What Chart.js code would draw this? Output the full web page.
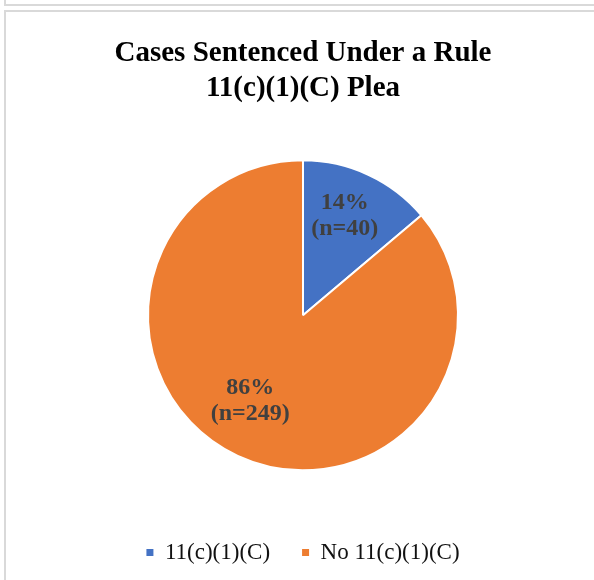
<!DOCTYPE html>
<html>
<head>
<meta charset="utf-8">
<script src="https://cdn.jsdelivr.net/npm/chart.js@4.4.1/dist/chart.umd.min.js"></script>
<style>
  html, body { margin: 0; padding: 0; background: #fff; overflow: hidden; }
  body { width: 594px; height: 580px; position: relative; }
  .caixaAnterior { position: absolute; left: 4px; top: -10px; width: 700px; height: 14px;
    border-left: 2px solid #d9d9d9; border-bottom: 2px solid #d9d9d9; }
  .caixa { position: absolute; left: 4px; top: 10px; width: 700px; height: 700px;
    border-left: 2px solid #d9d9d9; border-top: 2px solid #d9d9d9; }
  #grafico { position: absolute; left: 0; top: 0; }
</style>
</head>
<body>
<div class="caixaAnterior"></div>
<div class="caixa"></div>
<canvas id="grafico" width="594" height="574"></canvas>
<script>
const categorias = ["11(c)(1)(C)", "No 11(c)(1)(C)"];
const casos = [40, 249];
const cores = ["#4472C4", "#ED7D31"];
const titulo = ["Cases Sentenced Under a Rule", "11(c)(1)(C) Plea"];

const total = casos.reduce((acc, v) => acc + v, 0);

// pequeno ajuste de posição dos rótulos (px), como o Excel coloca
const ajusteRotulo = [[-2, -5], [-9, -9]];

// escreve "xx%" e "(n=..)" dentro de cada fatia
const rotulosFatias = {
  id: "rotulosFatias",
  afterDatasetsDraw(chart) {
    const ctx = chart.ctx;
    const meta = chart.getDatasetMeta(0);
    ctx.save();
    ctx.font = "bold 24px 'Liberation Serif', 'Times New Roman', serif";
    ctx.fillStyle = "#404040";
    ctx.textAlign = "center";
    ctx.textBaseline = "middle";
    meta.data.forEach((arco, i) => {
      const p = arco.getProps(["x", "y", "startAngle", "endAngle", "outerRadius"], true);
      const meio = (p.startAngle + p.endAngle) / 2;
      const r = p.outerRadius * 0.67;
      const x = p.x + Math.cos(meio) * r + ajusteRotulo[i][0];
      const y = p.y + Math.sin(meio) * r + ajusteRotulo[i][1];
      const pct = Math.round(casos[i] / total * 100);
      ctx.fillText(pct + "%", x, y - 13);
      ctx.fillText("(n=" + casos[i] + ")", x, y + 13);
    });
    ctx.restore();
  }
};

const padrao = Chart.overrides.pie.plugins.legend.labels.generateLabels;

new Chart(document.getElementById("grafico").getContext("2d"), {
  type: "pie",
  data: {
    labels: categorias,
    datasets: [{
      data: casos,
      backgroundColor: cores,
      borderColor: "#ffffff",
      borderWidth: 2,
      radius: 155,
    }],
  },
  options: {
    responsive: false,
    animation: false,
    layout: { padding: { left: 12, right: 0, top: 0, bottom: 0 } },
    plugins: {
      tooltip: { enabled: false },
      title: {
        display: true,
        text: titulo,
        color: "#000000",
        font: { family: "'Liberation Serif', 'Times New Roman', serif", size: 29, weight: "bold", lineHeight: 1.2 },
        padding: { top: 36, bottom: 16 },
      },
      legend: {
        position: "bottom",
        labels: {
          color: "#111111",
          font: { family: "'Liberation Serif', 'Times New Roman', serif", size: 23 },
          boxWidth: 7,
          boxHeight: 7,
          padding: 32,
          generateLabels(chart) {
            return padrao(chart).map(item => ({ ...item, lineWidth: 0, strokeStyle: "rgba(0,0,0,0)" }));
          },
        },
      },
    },
  },
  plugins: [rotulosFatias],
});
</script>
</body>
</html>
